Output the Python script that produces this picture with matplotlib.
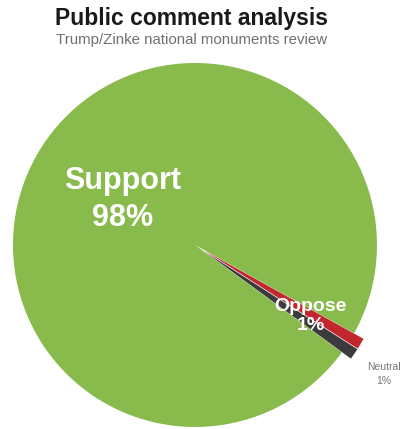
import matplotlib
matplotlib.use("Agg")
import matplotlib.pyplot as plt

# Datos del gráfico
categorias = ["Support", "Oppose", "Neutral"]
valores = [98, 1, 1]
colores = ["#88bb4b", "#c1272d", "#3b3b3d"]

plt.rcParams['font.family'] = ['Liberation Sans', 'DejaVu Sans']

fig = plt.figure(figsize=(4.01, 4.29), dpi=100)
ax = fig.add_axes([0.0324, 0.0047, 0.9077, 0.8485])

ax.pie(
    valores,
    colors=colores,
    startangle=-29 + 352.8,
    counterclock=False,
    explode=[0, 0.06, 0.06],
    radius=1,
    wedgeprops={'linewidth': 0},
)
ax.set_xlim(-1, 1)
ax.set_ylim(-1, 1)
ax.set_aspect('equal')
ax.axis('off')

# Etiquetas
ax.text(-0.396, 0.25, f"{categorias[0]}\n{valores[0]}%", color='white',
        fontsize=22, fontweight='bold', ha='center', va='center', linespacing=1.3)
ax.text(0.637, -0.39, f"{categorias[1]}\n{valores[1]}%", color='white',
        fontsize=14, fontweight='bold', ha='center', va='center', linespacing=1.2)
ax.text(1.04, -0.71, f"{categorias[2]}\n{valores[2]}%", color='#777777',
        fontsize=7.5, ha='center', va='center', linespacing=1.5)

fig.text(0.478, 1 - 18 / 429, "Public comment analysis", fontsize=16.5,
         fontweight='bold', color='#1a1a1a', ha='center', va='center')
fig.text(0.478, 1 - 40 / 429, "Trump/Zinke national monuments review", fontsize=10.8,
         color='#707070', ha='center', va='center')

fig.savefig("out.png", dpi=100)
